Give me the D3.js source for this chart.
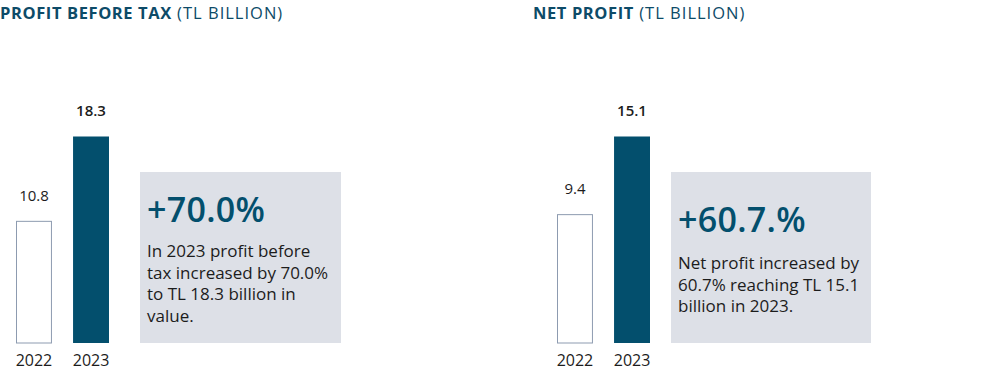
<!DOCTYPE html>
<html><head><meta charset="utf-8">
<script src="https://cdn.jsdelivr.net/npm/d3@7"></script>
<style>body{margin:0;background:#fff;} svg{display:block;font-family:"Open Sans",sans-serif;}</style>
</head><body>
<svg id="c" width="1001" height="378"></svg>
<script>
const years = ["2022", "2023"];
const pbtValues = [10.8, 18.3];
const netValues = [9.4, 15.1];
const titles = [["PROFIT BEFORE TAX", " (TL BILLION)"], ["NET PROFIT", " (TL BILLION)"]];
const bigTexts = ["+70.0%", "+60.7.%"];
const bodyTexts = [
  ["In 2023 profit before", "tax increased by 70.0%", "to TL 18.3 billion in", "value."],
  ["Net profit increased by", "60.7% reaching TL 15.1", "billion in 2023."]
];

const dark = "#034f6d", titleC = "#0d4b68", boxC = "#dde0e7", ink = "#1c1c1c";
const svg = d3.select("#c");
const panels = [
  {x0: 0, bx: [16, 109], box: [140, 341], big: 222, body: 257, values: pbtValues},
  {x0: 533, bx: [557, 650], box: [671, 871], big: 232, body: 269, values: netValues}
];
const baseY = 343, topY = 136;

panels.forEach((p, i) => {
  const g = svg.append("g");
  const t = g.append("text").attr("x", p.x0).attr("y", 19).attr("fill", titleC).attr("font-size", 16.5);
  t.append("tspan").attr("font-weight", 700).attr("letter-spacing", 0.6).text(titles[i][0]);
  t.append("tspan").attr("font-weight", 400).attr("letter-spacing", 1).text(titles[i][1]);

  const x = d3.scaleBand().domain(years).range(p.bx).paddingInner(0.37).paddingOuter(0);
  const y = d3.scaleLinear().domain([0, d3.max(p.values)]).range([baseY, topY]);

  g.selectAll("rect.bar").data(p.values).join("rect")
    .attr("x", (d, j) => x(years[j]) + (j === 0 ? 0.5 : 0))
    .attr("y", d => y(d) + 0.5)
    .attr("width", (d, j) => x.bandwidth() - (j === 0 ? 1 : 0))
    .attr("height", d => baseY - y(d) - 0.5)
    .attr("fill", (d, j) => j === 0 ? "#fff" : dark)
    .attr("stroke", (d, j) => j === 0 ? "#8d9bb0" : "none")
    .attr("stroke-width", 1);

  g.selectAll("text.val").data(p.values).join("text")
    .attr("x", (d, j) => x(years[j]) + x.bandwidth() / 2)
    .attr("y", d => y(d) - 20)
    .attr("text-anchor", "middle").attr("font-size", 15)
    .attr("font-weight", (d, j) => j === 1 ? 600 : 400)
    .attr("fill", ink)
    .text(d => d.toFixed(1));

  const xAxis = d3.axisBottom(x).tickSize(0).tickPadding(0);
  const ag = g.append("g").attr("transform", `translate(0,${baseY})`).call(xAxis);
  ag.select(".domain").remove();
  ag.selectAll("text").attr("dy", null).attr("y", 23).attr("font-size", 16)
    .attr("font-family", "'Open Sans',sans-serif").attr("fill", ink);

  g.append("rect").attr("x", p.box[0]).attr("y", 172).attr("width", p.box[1] - p.box[0])
    .attr("height", baseY - 172).attr("fill", boxC);
  g.append("text").attr("x", p.box[0] + 7).attr("y", p.big).attr("font-size", 34)
    .attr("letter-spacing", 0.3)
    .attr("font-weight", 600).attr("fill", dark).text(bigTexts[i]);
  const bt = g.append("text").attr("x", p.box[0] + 7).attr("y", p.body).attr("font-size", 17)
    .attr("fill", ink);
  bodyTexts[i].forEach((l, k) => bt.append("tspan").attr("x", p.box[0] + 7).attr("dy", k ? 21.5 : 0).text(l));
});
</script>
</body></html>
